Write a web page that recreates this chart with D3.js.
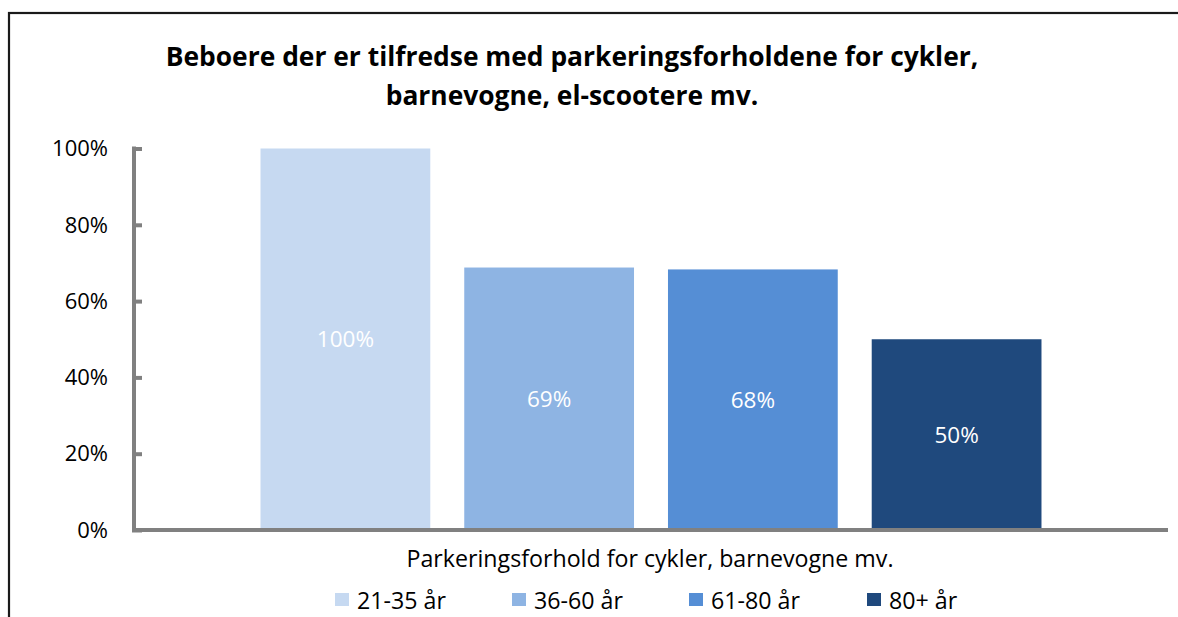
<!DOCTYPE html>
<html>
<head>
<meta charset="utf-8">
<script src="https://cdn.jsdelivr.net/npm/d3@7"></script>
<style>
  html, body { margin: 0; padding: 0; background: #fff; }
  svg { display: block; }
  text { font-family: "Open Sans", Lato, sans-serif; }
</style>
</head>
<body>
<svg id="chart" width="1178" height="617"></svg>
<script>
const titleLines = ["Beboere der er tilfredse med parkeringsforholdene for cykler,", "barnevogne, el-scootere mv."];
const categories = ["Parkeringsforhold for cykler, barnevogne mv."];
const series = ["21-35 år", "36-60 år", "61-80 år", "80+ år"];
const values = [1.00, 0.688, 0.683, 0.50];
const valueLabels = ["100%", "69%", "68%", "50%"];
const colors = ["#C6D9F1", "#8EB4E3", "#558ED5", "#1F497D"];
const yTicks = [0, 0.2, 0.4, 0.6, 0.8, 1.0];

const svg = d3.select("#chart");
const W = 1178, H = 617;
const plot = { left: 134, right: 1168, top: 148.5, bottom: 530 };

// outer frame
svg.append("rect")
  .attr("x", 9).attr("y", 13)
  .attr("width", W + 20).attr("height", H + 20)
  .attr("fill", "none").attr("stroke", "#1a1a1a").attr("stroke-width", 2.2);

// title
svg.append("text")
  .attr("x", 572).attr("y", 66)
  .attr("text-anchor", "middle")
  .style("font-weight", "bold").style("font-size", "26.4px")
  .selectAll("tspan").data(titleLines).join("tspan")
  .attr("x", 572).attr("dy", (d, i) => i === 0 ? 0 : 39)
  .text(d => d);

const y = d3.scaleLinear().domain([0, 1]).range([plot.bottom, plot.top]);
const x0 = d3.scaleBand().domain(categories).range([plot.left, plot.right])
  .paddingInner(0).paddingOuter(0.162);
const x1 = d3.scaleBand().domain(series).range([0, x0.bandwidth()])
  .paddingInner(0.1667).paddingOuter(0);
const color = d3.scaleOrdinal().domain(series).range(colors);

// bars
const g = svg.append("g");
const barData = series.map((s, i) => ({ cat: categories[0], s, v: values[i], label: valueLabels[i] }));
g.selectAll("rect.bar").data(barData).join("rect")
  .attr("class", "bar")
  .attr("x", d => x0(d.cat) + x1(d.s))
  .attr("y", d => y(d.v))
  .attr("width", x1.bandwidth())
  .attr("height", d => y(0) - y(d.v))
  .attr("fill", d => color(d.s));

g.selectAll("text.val").data(barData).join("text")
  .attr("class", "val")
  .attr("x", d => x0(d.cat) + x1(d.s) + x1.bandwidth() / 2)
  .attr("y", d => (y(d.v) + y(0)) / 2)
  .attr("dy", "0.35em")
  .attr("text-anchor", "middle")
  .attr("fill", "#fff")
  .style("font-size", "22.5px")
  .text(d => d.label);

// y axis
const yAxis = d3.axisRight(y).tickValues(yTicks).tickSize(8).tickFormat("");
const ya = svg.append("g").attr("transform", `translate(${plot.left},0)`).call(yAxis);
ya.select(".domain").attr("stroke", "#808080").attr("stroke-width", 4)
  .attr("d", `M0,${plot.bottom + 2}V${plot.top - 2}`);
ya.selectAll(".tick line").attr("stroke", "#808080").attr("stroke-width", 4).attr("x1", -2);

svg.append("g").selectAll("text").data(yTicks).join("text")
  .attr("x", 108).attr("y", d => y(d)).attr("dy", "0.35em")
  .attr("text-anchor", "end").style("font-size", "22px").attr("fill", "#000")
  .text(d => d3.format(".0%")(d));

// x axis
const xAxis = d3.axisBottom(x0).tickSize(0).tickFormat("");
const xa = svg.append("g").attr("transform", `translate(0,${plot.bottom})`).call(xAxis);
xa.select(".domain").attr("stroke", "#808080").attr("stroke-width", 4)
  .attr("d", `M${plot.left - 2},0H${plot.right}`);

svg.append("text")
  .attr("x", 650).attr("y", 567)
  .attr("text-anchor", "middle").style("font-size", "23.2px").attr("fill", "#000")
  .text(categories[0]);

// legend
const legendX = [335, 512, 689, 867];
const leg = svg.append("g").selectAll("g").data(series).join("g")
  .attr("transform", (d, i) => `translate(${legendX[i]},593)`);
leg.append("rect").attr("width", 14).attr("height", 13).attr("fill", d => color(d));
leg.append("text").attr("x", 22).attr("y", 15.5)
  .style("font-size", "23.2px").attr("fill", "#000").text(d => d);
</script>
</body>
</html>
